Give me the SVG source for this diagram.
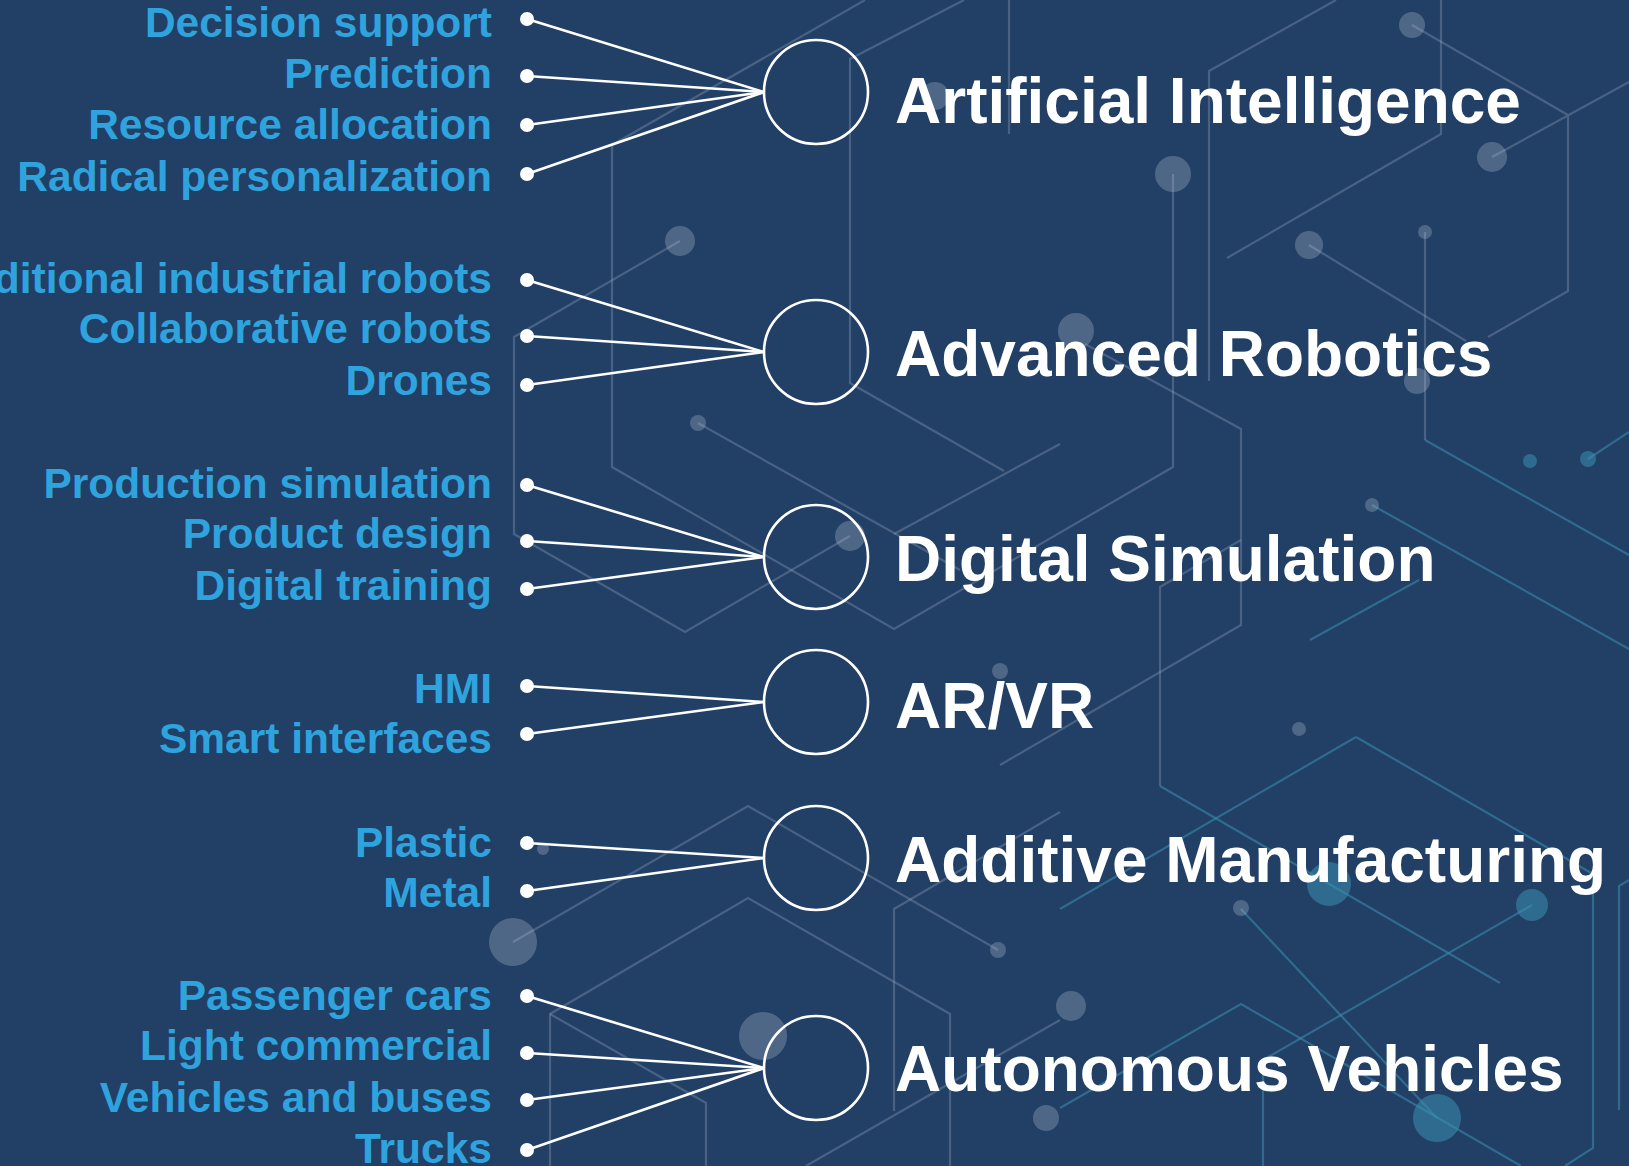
<svg xmlns="http://www.w3.org/2000/svg" width="1629" height="1166" viewBox="0 0 1629 1166">
<style>
.bg{fill:#223F66}
.pg{fill:none;stroke:#9aaac0;stroke-opacity:0.32;stroke-width:2.2}
.pt{fill:none;stroke:#3a8fb0;stroke-opacity:0.55;stroke-width:2.2}
.dg{fill:#b8c4d4;fill-opacity:0.3}
.dt{fill:#3a8fb0;fill-opacity:0.55}
.conn{stroke:#ffffff;stroke-width:2.6;fill:none}
.end{fill:#ffffff}
.hub{fill:none;stroke:#ffffff;stroke-width:2.6}
.title{font-family:"Liberation Sans",Arial,sans-serif;font-weight:bold;font-size:64px;fill:#ffffff}
.item{font-family:"Liberation Sans",Arial,sans-serif;font-weight:bold;font-size:42.5px;fill:#2FA3DE;text-anchor:end}
</style>
<rect class="bg" x="0" y="0" width="1629" height="1166"/>
<g id="background">
  <path class="pg" d="M865,0 L612,145 L612,467 L894,629 L1173,467 L1173,174"/>
  <path class="pg" d="M680,241 L514,337 L514,534 L685,632 L850,536"/>
  <path class="pg" d="M964,0 L850,59 L850,383 L1004,471"/>
  <path class="pg" d="M1009,0 L1009,134"/>
  <path class="pg" d="M1336,0 L1209,71 L1209,381"/>
  <path class="pg" d="M1441,0 L1441,134 L1227,258"/>
  <path class="pg" d="M1412,25 L1568,115 M1492,157 L1629,82 M1568,115 L1568,291 L1488,337"/>
  <path class="pg" d="M1309,245 L1466,341"/>
  <path class="pg" d="M1425,232 L1425,440"/>
  <path class="pt" d="M1425,440 L1629,555"/>
  <path class="pg" d="M1085,344 L1241,429 L1241,625 L1000,765"/>
  <path class="pg" d="M698,423 L960,570"/>
  <path class="pg" d="M894,534 L1060,444"/>
  <path class="pg" d="M1241,540 L1160,587 L1160,786"/>
  <path class="pt" d="M1160,786 L1500,983"/>
  <path class="pt" d="M1310,640 L1419,580"/>
  <path class="pt" d="M1372,505 L1629,649"/>
  <path class="pt" d="M1588,459 L1629,432"/>
  <path class="pt" d="M1356,737 L1060,909 M1356,737 L1593,874 L1593,1148 L1565,1166"/>
  <path class="pg" d="M1060,812 L894,909 L894,1111"/>
  <path class="pg" d="M513,942 L748,806 L998,950"/>
  <path class="pg" d="M550,1166 L550,1014 L748,898 L950,1014 L950,1166"/>
  <path class="pg" d="M550,1014 L706,1103 L706,1166"/>
  <path class="pg" d="M806,1166 L1060,1020"/>
  <path class="pt" d="M1060,1108 L1241,1004 L1521,1166"/>
  <path class="pt" d="M1532,905 L1263,1060 L1263,1166"/>
  <path class="pt" d="M1241,909 L1437,1118"/>
  <path class="pt" d="M1629,880 L1619,886 L1619,1110"/>
  <circle class="dg" cx="680" cy="241" r="15"/>
  <circle class="dg" cx="935" cy="96" r="14"/>
  <circle class="dg" cx="1173" cy="174" r="18"/>
  <circle class="dg" cx="1412" cy="25" r="13"/>
  <circle class="dg" cx="1492" cy="157" r="15"/>
  <circle class="dg" cx="1309" cy="245" r="14"/>
  <circle class="dg" cx="1425" cy="232" r="7"/>
  <circle class="dg" cx="1076" cy="331" r="18"/>
  <circle class="dg" cx="1417" cy="381" r="13"/>
  <circle class="dg" cx="698" cy="423" r="8"/>
  <circle class="dg" cx="850" cy="536" r="15"/>
  <circle class="dt" cx="1530" cy="461" r="7"/>
  <circle class="dt" cx="1588" cy="459" r="8"/>
  <circle class="dg" cx="1372" cy="505" r="7"/>
  <circle class="dg" cx="1000" cy="671" r="8"/>
  <circle class="dg" cx="1299" cy="729" r="7"/>
  <circle class="dg" cx="543" cy="849" r="6"/>
  <circle class="dg" cx="513" cy="942" r="24"/>
  <circle class="dg" cx="998" cy="950" r="8"/>
  <circle class="dt" cx="1329" cy="884" r="22"/>
  <circle class="dt" cx="1532" cy="905" r="16"/>
  <circle class="dg" cx="1241" cy="908" r="8"/>
  <circle class="dg" cx="763" cy="1036" r="24"/>
  <circle class="dg" cx="1071" cy="1006" r="15"/>
  <circle class="dg" cx="1046" cy="1118" r="13"/>
  <circle class="dt" cx="1437" cy="1118" r="24"/>
</g>
<g id="connectors">
  <line class="conn" x1="527" y1="19" x2="764" y2="92"/>
  <line class="conn" x1="527" y1="76" x2="764" y2="92"/>
  <line class="conn" x1="527" y1="125" x2="764" y2="92"/>
  <line class="conn" x1="527" y1="174" x2="764" y2="92"/>
  <line class="conn" x1="527" y1="280" x2="764" y2="352"/>
  <line class="conn" x1="527" y1="336" x2="764" y2="352"/>
  <line class="conn" x1="527" y1="385" x2="764" y2="352"/>
  <line class="conn" x1="527" y1="485" x2="764" y2="557"/>
  <line class="conn" x1="527" y1="541" x2="764" y2="557"/>
  <line class="conn" x1="527" y1="589" x2="764" y2="557"/>
  <line class="conn" x1="527" y1="686" x2="764" y2="702"/>
  <line class="conn" x1="527" y1="734" x2="764" y2="702"/>
  <line class="conn" x1="527" y1="843" x2="764" y2="858"/>
  <line class="conn" x1="527" y1="891" x2="764" y2="858"/>
  <line class="conn" x1="527" y1="996" x2="764" y2="1068"/>
  <line class="conn" x1="527" y1="1053" x2="764" y2="1068"/>
  <line class="conn" x1="527" y1="1100" x2="764" y2="1068"/>
  <line class="conn" x1="527" y1="1150" x2="764" y2="1068"/>
  <circle class="end" cx="527" cy="19" r="7"/>
  <circle class="end" cx="527" cy="76" r="7"/>
  <circle class="end" cx="527" cy="125" r="7"/>
  <circle class="end" cx="527" cy="174" r="7"/>
  <circle class="end" cx="527" cy="280" r="7"/>
  <circle class="end" cx="527" cy="336" r="7"/>
  <circle class="end" cx="527" cy="385" r="7"/>
  <circle class="end" cx="527" cy="485" r="7"/>
  <circle class="end" cx="527" cy="541" r="7"/>
  <circle class="end" cx="527" cy="589" r="7"/>
  <circle class="end" cx="527" cy="686" r="7"/>
  <circle class="end" cx="527" cy="734" r="7"/>
  <circle class="end" cx="527" cy="843" r="7"/>
  <circle class="end" cx="527" cy="891" r="7"/>
  <circle class="end" cx="527" cy="996" r="7"/>
  <circle class="end" cx="527" cy="1053" r="7"/>
  <circle class="end" cx="527" cy="1100" r="7"/>
  <circle class="end" cx="527" cy="1150" r="7"/>
</g>
<g id="node-ai">
  <circle class="hub" cx="816" cy="92" r="52"/>
  <text class="title" x="895" y="123">Artificial Intelligence</text>
  <text class="item" x="492" y="37">Decision support</text>
  <text class="item" x="492" y="88">Prediction</text>
  <text class="item" x="492" y="139">Resource allocation</text>
  <text class="item" x="492" y="191">Radical personalization</text>
</g>
<g id="node-robotics">
  <circle class="hub" cx="816" cy="352" r="52"/>
  <text class="title" x="895" y="376">Advanced Robotics</text>
  <text class="item" x="492" y="293">Traditional industrial robots</text>
  <text class="item" x="492" y="343">Collaborative robots</text>
  <text class="item" x="492" y="395">Drones</text>
</g>
<g id="node-simulation">
  <circle class="hub" cx="816" cy="557" r="52"/>
  <text class="title" x="895" y="581">Digital Simulation</text>
  <text class="item" x="492" y="498">Production simulation</text>
  <text class="item" x="492" y="548">Product design</text>
  <text class="item" x="492" y="600">Digital training</text>
</g>
<g id="node-arvr">
  <circle class="hub" cx="816" cy="702" r="52"/>
  <text class="title" x="895" y="728">AR/VR</text>
  <text class="item" x="492" y="703">HMI</text>
  <text class="item" x="492" y="753">Smart interfaces</text>
</g>
<g id="node-additive">
  <circle class="hub" cx="816" cy="858" r="52"/>
  <text class="title" x="895" y="882">Additive Manufacturing</text>
  <text class="item" x="492" y="857">Plastic</text>
  <text class="item" x="492" y="907">Metal</text>
</g>
<g id="node-autonomous">
  <circle class="hub" cx="816" cy="1068" r="52"/>
  <text class="title" x="895" y="1091">Autonomous Vehicles</text>
  <text class="item" x="492" y="1010">Passenger cars</text>
  <text class="item" x="492" y="1060">Light commercial</text>
  <text class="item" x="492" y="1112">Vehicles and buses</text>
  <text class="item" x="492" y="1163">Trucks</text>
</g>
</svg>
